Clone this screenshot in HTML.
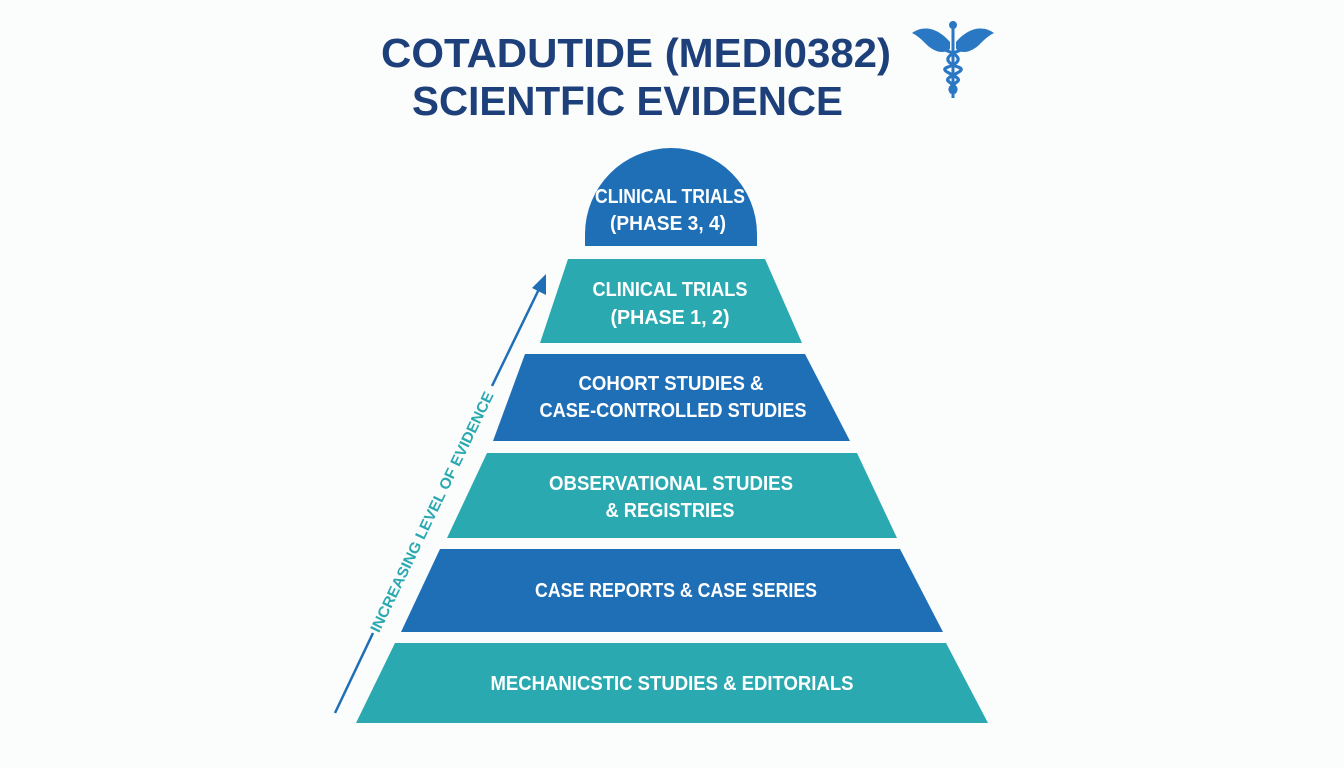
<!DOCTYPE html>
<html><head><meta charset="utf-8"><style>
html,body{margin:0;padding:0;background:#fbfcfc;}
svg{display:block}
text{font-family:"Liberation Sans",sans-serif;}
</style></head><body>
<svg width="1344" height="768" viewBox="0 0 1344 768" xmlns="http://www.w3.org/2000/svg">
<rect width="1344" height="768" fill="#fbfcfc"/>
<!-- Title -->
<text x="381" y="67" font-size="41" font-weight="bold" fill="#1d3f7a" textLength="510" lengthAdjust="spacingAndGlyphs">COTADUTIDE (MEDI0382)</text>
<text x="412" y="115" font-size="41" font-weight="bold" fill="#1d3f7a" textLength="431" lengthAdjust="spacingAndGlyphs">SCIENTFIC EVIDENCE</text>
<!-- Caduceus -->
<g fill="#2a78c4" stroke="#2a78c4">
<circle cx="953" cy="25" r="3.5"/>
<line x1="953" y1="27" x2="953" y2="98" stroke-width="3"/>
<path d="M950,42 C936,26 922,26 912,33 C918,36 922,40 926,44 C930,48 936,52 942,52 C946,52 950,50 950,48 Z" stroke="none"/>
<path d="M956,42 C970,26 984,26 994,33 C988,36 984,40 980,44 C976,48 970,52 964,52 C960,52 956,50 956,48 Z" stroke="none"/>
<path d="M945,50 C962,56 962,62 948,67 C936,71 962,76 958,81 C952,86 947,88 952,93" fill="none" stroke-width="3.2"/>
<path d="M961,50 C944,56 944,62 958,67 C970,71 944,76 948,81 C954,86 959,88 954,93" fill="none" stroke-width="3.2"/>
</g>
<!-- Pyramid -->
<path d="M585,246 L585,234 A86,86 0 0 1 757,234 L757,246 Z" fill="#1f6fb7"/>
<polygon points="568,259 765,259 802,343 540,343" fill="#2aa9b0"/>
<polygon points="525,354 805,354 850,441 493,441" fill="#1f6fb7"/>
<polygon points="487,453 857,453 897,538 447,538" fill="#2aa9b0"/>
<polygon points="440,549 900,549 943,632 401,632" fill="#1f6fb7"/>
<polygon points="395,643 946,643 988,723 356,723" fill="#2aa9b0"/>
<!-- Labels -->
<g fill="#ffffff" font-size="20" font-weight="bold" text-anchor="middle">
<text x="670" y="203" textLength="150" lengthAdjust="spacingAndGlyphs">CLINICAL TRIALS</text>
<text x="668" y="230" textLength="116" lengthAdjust="spacingAndGlyphs">(PHASE 3, 4)</text>
<text x="670" y="296" textLength="155" lengthAdjust="spacingAndGlyphs">CLINICAL TRIALS</text>
<text x="670" y="324" textLength="119" lengthAdjust="spacingAndGlyphs">(PHASE 1, 2)</text>
<text x="671" y="390" textLength="185" lengthAdjust="spacingAndGlyphs">COHORT STUDIES &amp;</text>
<text x="673" y="417" textLength="267" lengthAdjust="spacingAndGlyphs">CASE-CONTROLLED STUDIES</text>
<text x="671" y="490" textLength="244" lengthAdjust="spacingAndGlyphs">OBSERVATIONAL STUDIES</text>
<text x="670" y="517" textLength="129" lengthAdjust="spacingAndGlyphs">&amp; REGISTRIES</text>
<text x="676" y="597" textLength="282" lengthAdjust="spacingAndGlyphs">CASE REPORTS &amp; CASE SERIES</text>
<text x="672" y="690" textLength="363" lengthAdjust="spacingAndGlyphs">MECHANICSTIC STUDIES &amp; EDITORIALS</text>
</g>
<!-- Arrow -->
<g stroke="#1f6fb7" stroke-width="2.5" fill="none">
<line x1="335" y1="713" x2="373" y2="633"/>
<line x1="492" y1="386" x2="540" y2="287"/>
</g>
<polygon points="546,274 546,295 532,288" fill="#1f6fb7"/>
<text x="432" y="512" font-size="15" font-weight="bold" fill="#2aa9b0" text-anchor="middle" transform="rotate(-64.3 432 512)" dy="5" textLength="265" lengthAdjust="spacingAndGlyphs">INCREASING LEVEL OF EVIDENCE</text>
</svg>
</body></html>
